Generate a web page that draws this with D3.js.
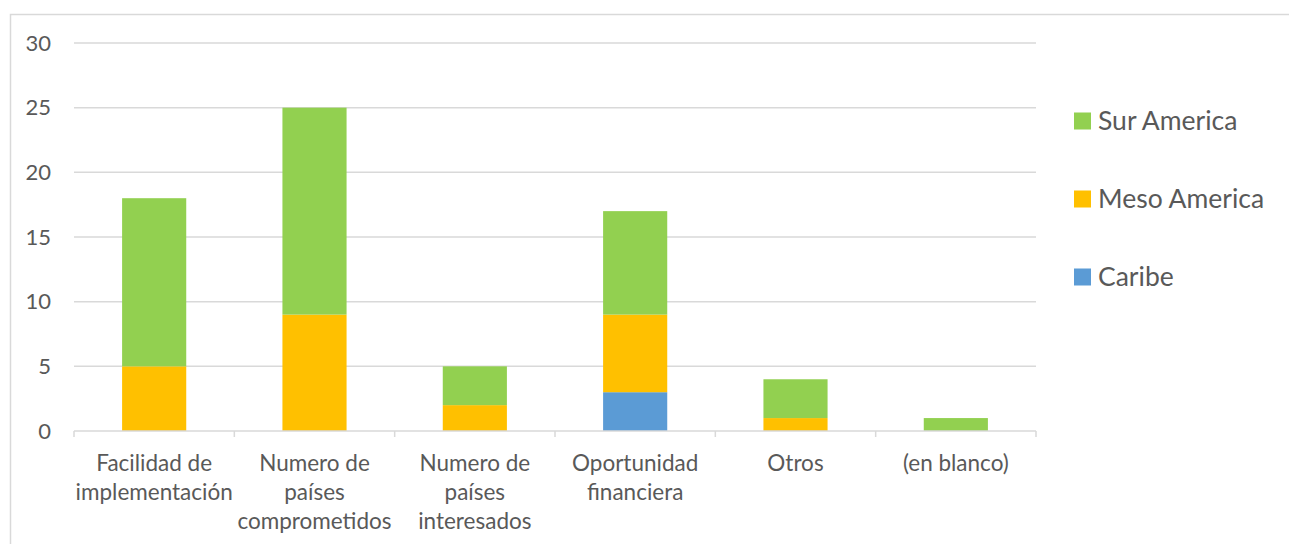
<!DOCTYPE html>
<html>
<head>
<meta charset="utf-8">
<title>Chart</title>
<script src="https://d3js.org/d3.v7.min.js"></script>
<style>
  body { margin: 0; background: #fff; }
  text { font-family: Lato, "Open Sans", sans-serif; fill: #595959; }
</style>
</head>
<body>
<svg id="chart"></svg>
<script>
const width = 1289;
const height = 544;

// data
const categories = ['Facilidad de implementación', 'Numero de países comprometidos', 'Numero de países interesados', 'Oportunidad financiera', 'Otros', '(en blanco)'];
const categoryLines = [
  ['Facilidad de', 'implementación'],
  ['Numero de', 'países', 'comprometidos'],
  ['Numero de', 'países', 'interesados'],
  ['Oportunidad', 'financiera'],
  ['Otros'],
  ['(en blanco)']
];
const seriesNames = ['Caribe', 'Meso America', 'Sur America'];
const caribe = [0, 0, 0, 3, 0, 0];
const mesoAmerica = [5, 9, 2, 6, 1, 0];
const surAmerica = [13, 16, 3, 8, 3, 1];
const yTicks = [0, 5, 10, 15, 20, 25, 30];
const colors = ['#5b9bd5', '#ffc000', '#92d050'];

const svg = d3.select('#chart')
  .attr('width', width)
  .attr('height', height);

// chart area border
svg.append('rect')
  .attr('x', 10.5).attr('y', 14.5)
  .attr('width', width + 20).attr('height', height + 20)
  .attr('fill', 'none')
  .attr('stroke', '#d9d9d9')
  .attr('stroke-width', 1.5);

const plotLeft = 74, plotRight = 1036, plotTop = 43, plotBottom = 431;

const x = d3.scaleBand()
  .domain(categories)
  .range([plotLeft, plotRight])
  .paddingInner(0.6)
  .paddingOuter(0.3);

const y = d3.scaleLinear()
  .domain([0, 30])
  .range([plotBottom, plotTop]);

// gridlines
svg.append('g')
  .selectAll('line')
  .data(yTicks.filter(d => d > 0))
  .enter()
  .append('line')
  .attr('x1', plotLeft).attr('x2', plotRight)
  .attr('y1', d => y(d)).attr('y2', d => y(d))
  .attr('stroke', '#d9d9d9')
  .attr('stroke-width', 1.5);

// y labels
svg.append('g')
  .selectAll('text')
  .data(yTicks)
  .enter()
  .append('text')
  .attr('x', 51)
  .attr('y', d => y(d))
  .attr('dy', '0.35em')
  .attr('text-anchor', 'end')
  .style('font-size', '22px')
  .text(d => d);

// stacked bars
const table = categories.map((c, i) => ({
  cat: c,
  'Caribe': caribe[i],
  'Meso America': mesoAmerica[i],
  'Sur America': surAmerica[i]
}));
const stacked = d3.stack().keys(seriesNames)(table);

svg.append('g')
  .selectAll('g')
  .data(stacked)
  .enter()
  .append('g')
  .attr('fill', (d, i) => colors[i])
  .selectAll('rect')
  .data(d => d)
  .enter()
  .append('rect')
  .attr('x', d => x(d.data.cat))
  .attr('y', d => y(d[1]))
  .attr('width', x.bandwidth())
  .attr('height', d => y(d[0]) - y(d[1]));

// x axis
const step = x.step();
const gx = svg.append('g')
  .attr('transform', `translate(0, ${plotBottom})`);
gx.append('line')
  .attr('x1', plotLeft).attr('x2', plotRight)
  .attr('stroke', '#d9d9d9').attr('stroke-width', 1.5);
const bounds = categories.map(c => x(c) - step * 0.3).concat([plotRight]);
gx.selectAll('.bound')
  .data(bounds)
  .enter()
  .append('line')
  .attr('class', 'bound')
  .attr('x1', d => d).attr('x2', d => d)
  .attr('y1', 0).attr('y2', 6)
  .attr('stroke', '#d9d9d9').attr('stroke-width', 1.5);

// category labels
const lbl = svg.append('g')
  .selectAll('text')
  .data(categories)
  .enter()
  .append('text')
  .attr('text-anchor', 'middle')
  .style('font-size', '22.5px')
  .attr('x', d => x(d) + x.bandwidth() / 2)
  .attr('y', 471);
lbl.selectAll('tspan')
  .data((d, i) => categoryLines[i])
  .enter()
  .append('tspan')
  .attr('x', function() { return this.parentNode.getAttribute('x'); })
  .attr('dy', (d, i) => i === 0 ? 0 : 29)
  .text(d => d);

// legend (reverse order)
const legendY = [121, 199, 277];
const legend = svg.append('g')
  .selectAll('g')
  .data(seriesNames.slice().reverse())
  .enter()
  .append('g')
  .attr('transform', (d, i) => `translate(1074, ${legendY[i]})`);
legend.append('rect')
  .attr('x', 0).attr('y', -8.5)
  .attr('width', 17).attr('height', 17)
  .attr('fill', d => colors[seriesNames.indexOf(d)]);
legend.append('text')
  .attr('x', 24)
  .attr('dy', '0.35em')
  .style('font-size', '26.5px')
  .text(d => d);
</script>
</body>
</html>
